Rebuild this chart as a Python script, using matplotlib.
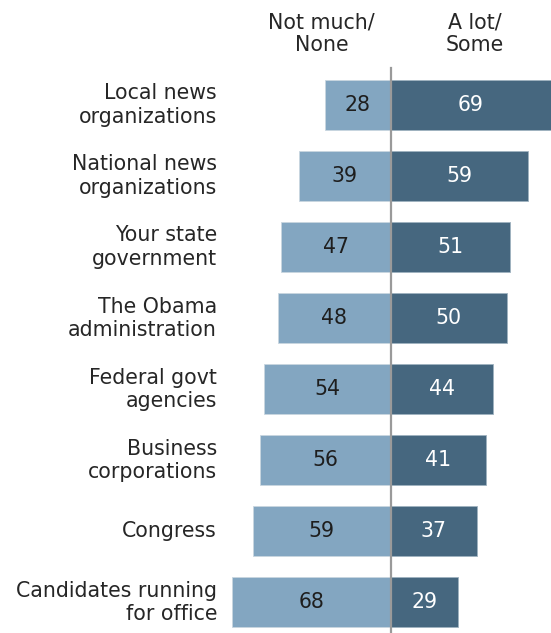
import matplotlib
matplotlib.use("Agg")
import matplotlib.pyplot as plt

categories = [
    "Local news\norganizations",
    "National news\norganizations",
    "Your state\ngovernment",
    "The Obama\nadministration",
    "Federal govt\nagencies",
    "Business\ncorporations",
    "Congress",
    "Candidates running\nfor office",
]
not_much = [28, 39, 47, 48, 54, 56, 59, 68]
a_lot = [69, 59, 51, 50, 44, 41, 37, 29]
headers = ["Not much/\nNone", "A lot/\nSome"]

light = "#83a6c1"
dark = "#46677f"
text_col = "#262626"

W, H, DPI = 551, 633, 100
fig = plt.figure(figsize=(W / DPI, H / DPI), dpi=DPI)
ax = fig.add_axes([0, 0, 1, 1])

# pixel geometry -> data limits
center_px = 390.5
ppu = 2.335
row0_px = 105.0
pitch = 71.04
ax.set_xlim((0 - center_px) / ppu, (W - center_px) / ppu)
ax.set_ylim((H - row0_px) / pitch, (0 - row0_px) / pitch)
ax.axis("off")

fs = 14.8
for i, (cat, nm, al) in enumerate(zip(categories, not_much, a_lot)):
    ax.barh(i, -nm, height=0.705, color=light, edgecolor="#c9d6e0", linewidth=0.6)
    ax.barh(i, al, height=0.705, color=dark, edgecolor="#9fb2c0", linewidth=0.6)
    ax.text(-nm / 2, i, str(nm), ha="center", va="center", fontsize=fs, color="#1e1e1e")
    vis_right = min(al, (W - center_px) / ppu)
    ax.text(vis_right / 2, i, str(al), ha="center", va="center", fontsize=fs, color="white")
    ax.text((217 - center_px) / ppu, i, cat, ha="right", va="center", fontsize=fs,
            color=text_col, linespacing=1.2)

# center divider
ax.plot([0, 0], [(68 - row0_px) / pitch, (H - row0_px) / pitch], color="#9a9a9a",
        linewidth=1.6, zorder=5, clip_on=False)

# column headers
hy = (34 - row0_px) / pitch
ax.text((321.7 - center_px) / ppu, hy, headers[0], ha="center", va="center",
        fontsize=fs, color=text_col, linespacing=1.15)
ax.text((475 - center_px) / ppu, hy, headers[1], ha="center", va="center",
        fontsize=fs, color=text_col, linespacing=1.15)

fig.savefig("out.png", dpi=DPI)
